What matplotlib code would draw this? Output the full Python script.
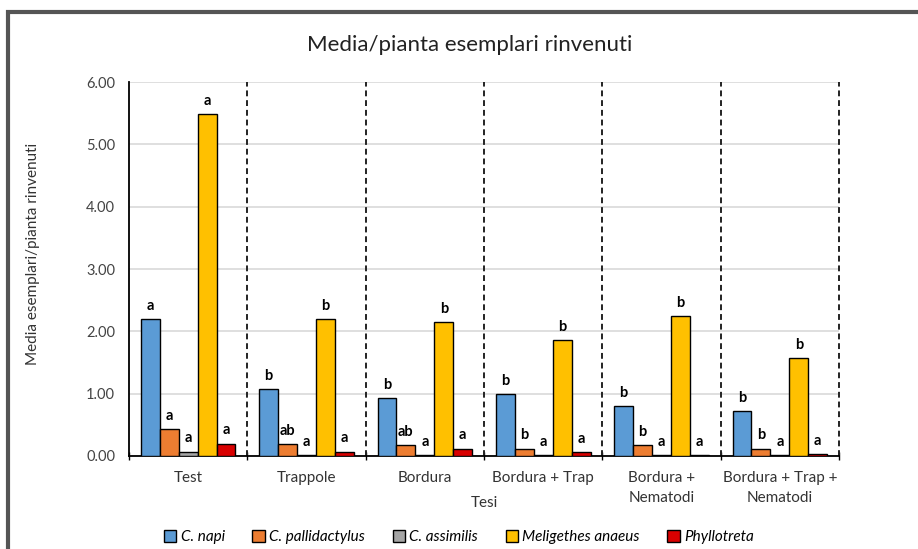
import matplotlib.pyplot as plt
import numpy as np
from matplotlib.patches import Rectangle

plt.rcParams['font.family'] = ['Lato', 'DejaVu Sans']

# Tesi e specie
tesi = ['Test', 'Trappole', 'Bordura', 'Bordura + Trap',
        'Bordura +\nNematodi', 'Bordura + Trap +\nNematodi']
specie = ['C. napi', 'C. pallidactylus', 'C. assimilis', 'Meligethes anaeus', 'Phyllotreta']
colori = ['#5B9BD5', '#ED7D31', '#A5A5A5', '#FFC000', '#D90000']

# medie per pianta
c_napi = [2.20, 1.07, 0.93, 0.99, 0.80, 0.72]
c_pallidactylus = [0.43, 0.19, 0.18, 0.12, 0.17, 0.12]
c_assimilis = [0.07, 0.02, 0.02, 0.02, 0.01, 0.02]
meligethes = [5.48, 2.19, 2.15, 1.86, 2.24, 1.57]
phyllotreta = [0.20, 0.07, 0.12, 0.06, 0.02, 0.03]

# lettere delle differenze significative
lettere_napi = ['a', 'b', 'b', 'b', 'b', 'b']
lettere_pallid = ['a', 'ab', 'ab', 'b', 'b', 'b']
lettere_assim = ['a', 'a', 'a', 'a', 'a', 'a']
lettere_melig = ['a', 'b', 'b', 'b', 'b', 'b']
lettere_phyllo = ['a', 'a', 'a', 'a', 'a', 'a']

serie = [c_napi, c_pallidactylus, c_assimilis, meligethes, phyllotreta]
lettere = [lettere_napi, lettere_pallid, lettere_assim, lettere_melig, lettere_phyllo]

fig = plt.figure(figsize=(9.18, 5.49), dpi=100)
ax = fig.add_axes([0.1405, 0.1694, 0.7735, 0.6812])

x = np.arange(len(tesi))
w = 0.16
for i, (vals, col, lab, lett) in enumerate(zip(serie, colori, specie, lettere)):
    pos = x + (i - 2) * w
    ax.bar(pos, vals, w, color=col, edgecolor='black', linewidth=1.0,
           label=lab, zorder=3)
    for xp, v, l in zip(pos, vals, lett):
        ax.text(xp, v + 0.1, l, ha='center', va='bottom', fontsize=10.5,
                fontweight='bold', zorder=4)

# separatori tratteggiati tra le tesi
for b in np.arange(0.5, len(tesi), 1.0):
    ax.axvline(b, color='#222222', linestyle=(0, (3, 2)), linewidth=1.4,
               zorder=2, clip_on=False)

ax.set_xlim(-0.5, len(tesi) - 0.5)
ax.set_ylim(0, 6)
ax.set_yticks(np.arange(0, 6.01, 1))
ax.set_yticklabels(['%.2f' % t for t in np.arange(0, 6.01, 1)], fontsize=10.5, color='#444444')
ax.yaxis.grid(True, color='#D9D9D9', linewidth=1.2, zorder=0)
ax.tick_params(axis='y', length=0, pad=10)

ax.set_xticks(x)
ax.set_xticklabels(tesi, fontsize=11, color='#333333', linespacing=1.5)
ax.set_xticks(np.arange(-0.5, len(tesi), 1.0), minor=True)
ax.tick_params(axis='x', which='major', length=0, pad=11)
ax.tick_params(axis='x', which='minor', length=6, direction='inout', width=1.0)

for s in ['top', 'right']:
    ax.spines[s].set_visible(False)
ax.spines['left'].set_linewidth(1.3)
ax.spines['bottom'].set_linewidth(1.3)

ax.set_xlabel('Tesi', fontsize=11, color='#333333', labelpad=-6)
ax.set_ylabel('Media esemplari/pianta rinvenuti', fontsize=11, color='#333333')
ax.yaxis.set_label_coords(-0.125, 0.54)
fig.text(0.512, 0.918, 'Media/pianta esemplari rinvenuti', ha='center', va='center',
         fontsize=16, color='#222222')

leg = fig.legend(loc='center', bbox_to_anchor=(0.5, 0.022), ncol=5, frameon=False,
                 handlelength=0.8, handleheight=0.8, handletextpad=0.3,
                 columnspacing=1.8, prop={'style': 'italic', 'size': 11})

# cornice esterna
fig.patches.append(Rectangle((8 / 918, -0.05), 1.1, 1 - 12 / 549 + 0.05,
                             transform=fig.transFigure, fill=False,
                             edgecolor='#555555', linewidth=3))

fig.savefig('out.png', dpi=100)
